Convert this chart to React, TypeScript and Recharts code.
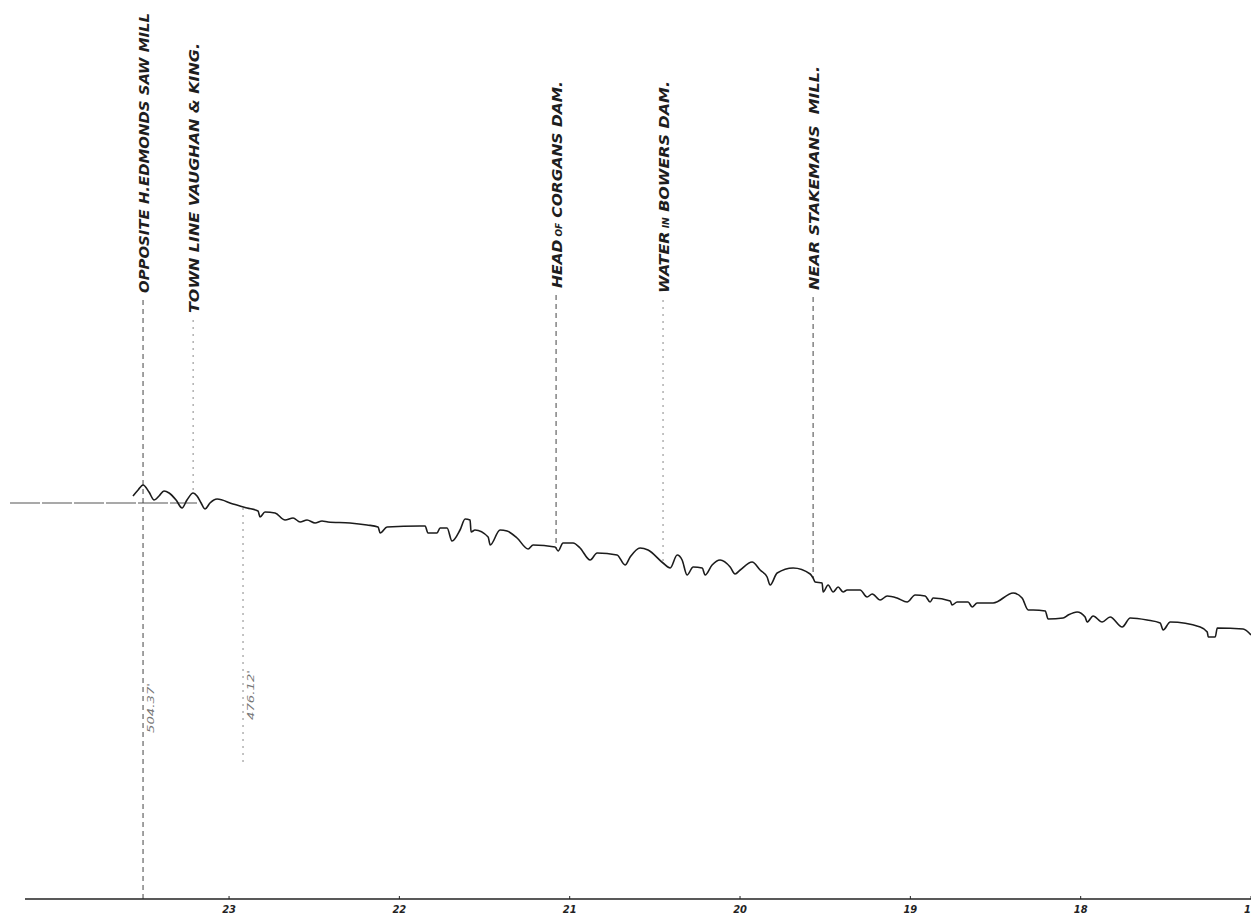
import { LineChart, Line, XAxis, YAxis, ReferenceLine } from "recharts";

// river profile: mile post along the stream, water level in feet
const profileMiles = [
  23.564, 23.534, 23.505, 23.47, 23.44, 23.411, 23.382, 23.352, 23.311, 23.276,
  23.247, 23.211, 23.188, 23.164, 23.141, 23.112, 23.07, 22.977, 22.894, 22.83,
  22.818, 22.789, 22.73, 22.671, 22.624, 22.583, 22.542, 22.495, 22.454, 22.419,
  22.29, 22.19, 22.125, 22.113, 22.072, 21.879, 21.849, 21.832, 21.779, 21.761,
  21.72, 21.691, 21.644, 21.614, 21.585, 21.579, 21.556, 21.479, 21.467, 21.409,
  21.368, 21.309, 21.244, 21.215, 21.086, 21.068, 21.039, 20.98, 20.939, 20.88,
  20.839, 20.722, 20.675, 20.645, 20.587, 20.54, 20.452, 20.41, 20.369, 20.34,
  20.311, 20.275, 20.222, 20.205, 20.164, 20.117, 20.058, 20.029, 19.999, 19.929,
  19.882, 19.841, 19.823, 19.782, 19.688, 19.588, 19.571, 19.559, 19.518, 19.512,
  19.483, 19.453, 19.424, 19.395, 19.371, 19.295, 19.254, 19.224, 19.177, 19.136,
  19.078, 19.019, 18.972, 18.913, 18.884, 18.866, 18.766, 18.755, 18.725, 18.661,
  18.637, 18.608, 18.514, 18.396, 18.344, 18.308, 18.279, 18.208, 18.191, 18.103,
  18.073, 18.021, 17.974, 17.962, 17.927, 17.874, 17.827, 17.756, 17.709, 17.61,
  17.533, 17.516, 17.474, 17.298, 17.257, 17.251, 17.21, 17.198, 17.046, 17.0,
];
const profileElev = [
  500.8, 502.0, 503.0, 501.6, 500.0, 500.8, 501.8, 501.4, 500.0, 498.4,
  500.0, 501.4, 500.8, 499.4, 498.2, 499.4, 500.2, 499.2, 498.4, 497.8,
  496.6, 497.6, 497.4, 496.0, 496.4, 495.6, 496.0, 495.4, 495.8, 495.6,
  495.4, 495.0, 494.6, 493.4, 494.6, 494.8, 494.8, 493.4, 493.4, 494.4,
  494.4, 491.8, 494.0, 496.2, 496.0, 493.6, 494.0, 492.6, 491.0, 494.0,
  493.8, 492.4, 490.2, 491.0, 490.6, 489.8, 491.4, 491.4, 490.4, 488.0,
  489.4, 489.0, 487.0, 488.6, 490.4, 490.0, 487.4, 486.4, 489.0, 488.0,
  485.0, 486.6, 486.4, 485.0, 487.0, 488.0, 486.6, 485.2, 486.0, 487.6,
  486.0, 484.6, 483.0, 485.4, 486.4, 485.2, 484.4, 483.6, 483.4, 481.6,
  483.0, 481.6, 482.6, 481.6, 482.0, 482.0, 480.6, 481.2, 480.0, 480.8,
  480.4, 479.6, 481.0, 480.8, 479.6, 480.4, 479.8, 479.0, 479.6, 479.6,
  478.6, 479.4, 479.4, 481.4, 480.4, 478.0, 478.0, 477.8, 476.2, 476.4,
  477.0, 477.6, 476.6, 475.6, 476.8, 475.6, 476.6, 474.6, 476.4, 476.0,
  475.4, 474.0, 475.6, 474.6, 473.6, 472.6, 472.6, 474.4, 474.2, 473.0,
];

const mileTicks = [23, 22, 21, 20, 19, 18, 17];

// level line at the upper end
const levelFrom = 24.286;
const levelTo = 23.188;
const levelElev = 499.4;

// station markers
const markerMiles = [23.505, 23.211, 21.08, 20.452, 19.571, 22.918];
const markerTop = [540.0, 536.0, 541.0, 540.0, 540.6, 498.4];
const markerBottom = [420.2, 501.0, 490.4, 487.6, 484.4, 447.0];
const markerNames = [
  "OPPOSITE H.EDMONDS SAW MILL",
  "TOWN LINE VAUGHAN & KING.",
  "HEAD OF CORGANS DAM.",
  "WATER IN BOWERS DAM.",
  "NEAR STAKEMANS\u00a0\u00a0MILL.",
  "",
];
const markerNotes = ["504.37'", "", "", "", "", "476.12'"];
const markerNoteElev = [453.4, 0, 0, 0, 0, 456.0];

// lettering lengths (px) so the hand lettering spans the same height
const nameSpan = [280, 270, 207, 212, 224, 0];
const faintMarker = [false, true, false, true, false, true];

const profile = profileMiles.map((mile, i) => ({ mile, elev: profileElev[i] }));

const LETTER_FONT = "'DejaVu Sans Condensed', 'Liberation Sans Narrow', 'DejaVu Sans', sans-serif";

function MileTick({ x, y, payload }: any) {
  return (
    <text
      x={x}
      y={y}
      dy={9}
      textAnchor="middle"
      fontSize={11}
      fontStyle="italic"
      fontWeight="bold"
      fontFamily={LETTER_FONT}
      fill="#222"
    >
      {payload.value}
    </text>
  );
}

function MarkerLabel({ viewBox, name, span, note, noteAt, top, bottom }: any) {
  if (!viewBox) return null;
  const { x, y, height } = viewBox;
  const noteY = note ? y + ((top - noteAt) / (top - bottom)) * height : 0;
  const words = name ? name.split(" ") : [];
  return (
    <g>
      {name && (
        <text
          transform={`translate(${x + 6},${y - 7}) rotate(-90)`}
          textLength={span}
          lengthAdjust="spacingAndGlyphs"
          fontSize={14}
          fontStyle="italic"
          fontWeight="bold"
          fontFamily={LETTER_FONT}
          fill="#1e1e1e"
        >
          {words.map((w: string, i: number) => (
            <tspan key={i} fontSize={w === "OF" || w === "IN" ? 8 : undefined}>
              {(i ? " " : "") + w}
            </tspan>
          ))}
        </text>
      )}
      {note && (
        <text
          transform={`translate(${x + 11},${noteY}) rotate(-90)`}
          textLength={50}
          lengthAdjust="spacingAndGlyphs"
          fontSize={9}
          fontStyle="italic"
          fontFamily={LETTER_FONT}
          fill="#777"
        >
          {note}
        </text>
      )}
    </g>
  );
}

export default function App() {
  return (
    <div style={{ position: "fixed", left: 0, top: 0, width: 1251, height: 921, overflow: "hidden", background: "#fff" }}>
      <LineChart width={1251} height={921} data={profile} margin={{ top: 0, right: 0, bottom: 0, left: 25 }}>
        <XAxis
          dataKey="mile"
          type="number"
          domain={[17, 24.198]}
          reversed
          allowDataOverflow
          ticks={mileTicks}
          interval={0}
          height={22}
          tickSize={3}
          tickMargin={2}
          tick={<MileTick />}
          axisLine={{ stroke: "#222", strokeWidth: 1.6 }}
          tickLine={{ stroke: "#222", transform: "translate(0,-3)" }}
        />
        <YAxis hide type="number" domain={[420.2, 600]} allowDataOverflow />
        <ReferenceLine
          segment={[
            { x: levelFrom, y: levelElev },
            { x: levelTo, y: levelElev },
          ]}
          ifOverflow="visible"
          stroke="#555"
          strokeWidth={1.1}
          strokeDasharray="30 2"
        />
        {markerMiles.map((m, i) => (
          <ReferenceLine
            key={i}
            segment={[
              { x: m, y: markerTop[i] },
              { x: m, y: markerBottom[i] },
            ]}
            ifOverflow="visible"
            stroke={faintMarker[i] ? "#888" : "#444"}
            strokeWidth={1}
            strokeDasharray={faintMarker[i] ? "2 5" : "5 4"}
            label={
              <MarkerLabel
                name={markerNames[i]}
                span={nameSpan[i]}
                note={markerNotes[i]}
                noteAt={markerNoteElev[i]}
                top={markerTop[i]}
                bottom={markerBottom[i]}
              />
            }
          />
        ))}
        <Line
          type="monotoneX"
          dataKey="elev"
          stroke="#1c1c1c"
          strokeWidth={1.6}
          dot={false}
          isAnimationActive={false}
        />
      </LineChart>
    </div>
  );
}
